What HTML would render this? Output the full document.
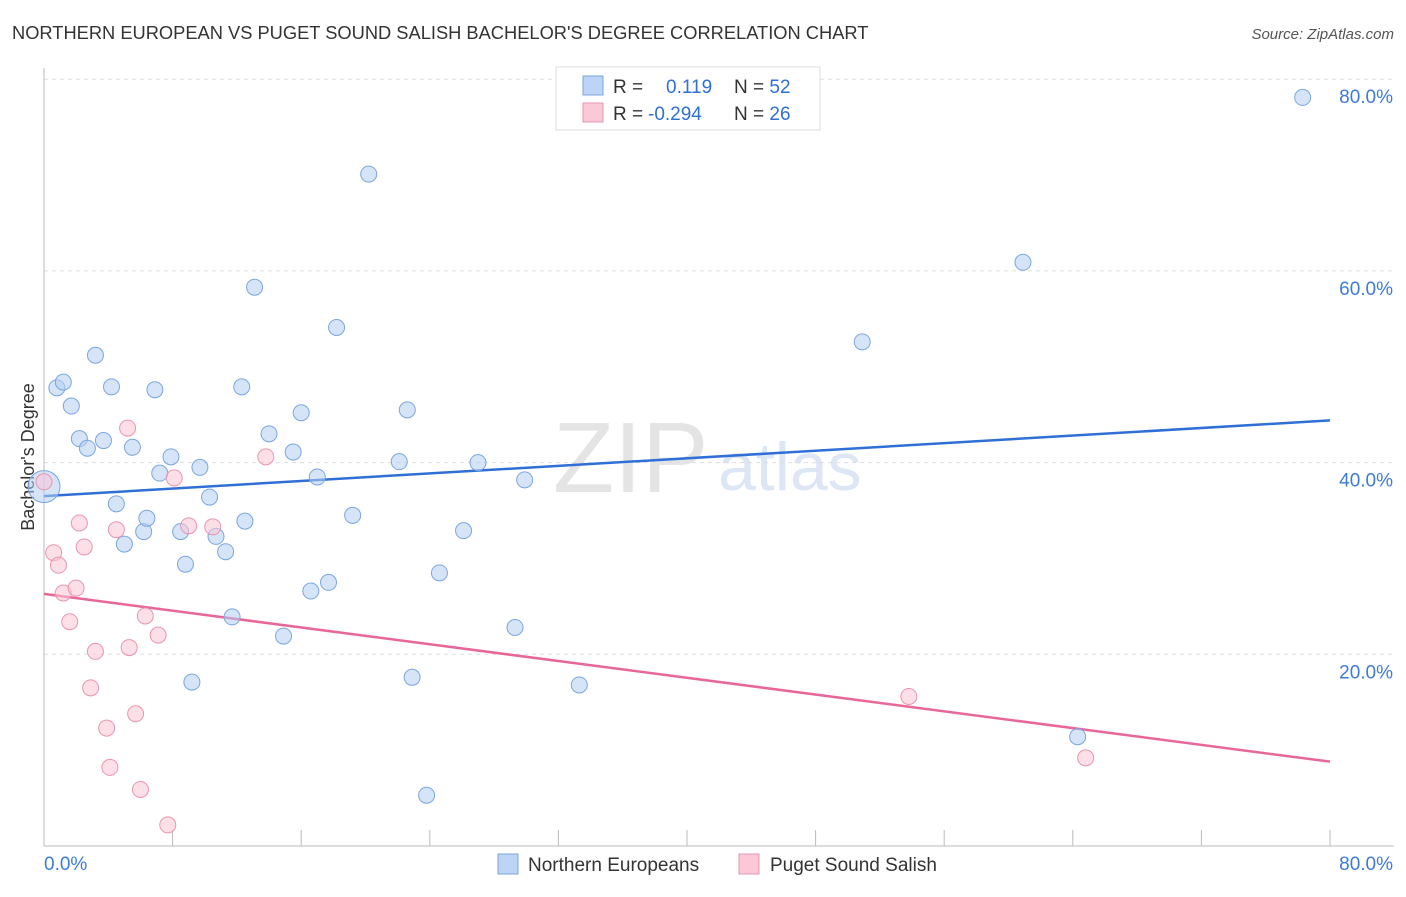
<!DOCTYPE html>
<html><head><meta charset="utf-8"><style>
body{margin:0;background:#fff;font-family:"Liberation Sans",sans-serif}
svg text{font-family:"Liberation Sans",sans-serif}
</style></head><body>
<svg id="c" width="1406" height="892">
<text x="12" y="39" font-size="18.3" fill="#333">NORTHERN EUROPEAN VS PUGET SOUND SALISH BACHELOR'S DEGREE CORRELATION CHART</text>
<text x="1394" y="39" font-size="15" fill="#555" font-style="italic" text-anchor="end">Source: ZipAtlas.com</text>
<text x="553" y="492" font-size="100" fill="#e4e4e4" font-family="Liberation Serif">ZIP</text>
<text x="718" y="490" font-size="68" fill="#dce6f4">atlas</text>
<text transform="translate(34,457) rotate(-90)" font-size="18" fill="#333" text-anchor="middle">Bachelor's Degree</text>
<g id="grid"></g><g id="axes"></g><g id="lines"></g><g id="pts"></g>
<g>
<rect x="556" y="67" width="264" height="63" fill="#fff" stroke="#ddd"/>
<rect x="583" y="76" width="20" height="19" fill="#bcd4f5" stroke="#7aa6e0"/>
<rect x="583" y="103" width="20" height="19" fill="#fac8d6" stroke="#eb94b0"/>
<text x="613" y="93" font-size="19" fill="#333">R = <tspan x="666" fill="#2f6fd6">0.119</tspan><tspan x="734" fill="#333">N = </tspan><tspan fill="#2f6fd6">52</tspan></text>
<text x="613" y="120" font-size="19" fill="#333">R = <tspan x="648" fill="#2f6fd6">-0.294</tspan><tspan x="734" fill="#333">N = </tspan><tspan fill="#2f6fd6">26</tspan></text>
</g>
<g>
<rect x="498" y="854" width="20" height="20" fill="#bcd4f5" stroke="#7aa6e0"/>
<text x="528" y="871" font-size="19" fill="#333">Northern Europeans</text>
<rect x="739" y="854" width="20" height="20" fill="#fac8d6" stroke="#eb94b0"/>
<text x="770" y="871" font-size="19" fill="#333">Puget Sound Salish</text>
</g>
</svg>
<script>
const yTicks=[20,40,60,80];
const yTickLabels=["20.0%","40.0%","60.0%","80.0%"];
const xTicks=[0,8,16,24,32,40,48,56,64,72,80];
const blueX=[0,0.8,1.2,1.7,2.2,2.7,3.2,3.7,4.2,4.5,5.0,5.5,6.2,6.4,6.9,7.2,7.9,8.5,8.8,9.2,9.7,10.3,10.7,11.3,11.7,12.3,12.5,13.1,14.0,14.9,15.5,16.0,16.6,17.0,17.7,18.2,19.2,20.2,22.1,22.6,22.9,23.8,24.6,26.1,27.0,29.3,29.9,33.3,50.9,60.9,64.3,78.3];
const blueY=[37.5,47.8,48.4,45.9,42.5,41.5,51.2,42.3,47.9,35.7,31.5,41.6,32.8,34.2,47.6,38.9,40.6,32.8,29.4,17.1,39.5,36.4,32.3,30.7,23.9,47.9,33.9,58.3,43.0,21.9,41.1,45.2,26.6,38.5,27.5,54.1,34.5,70.1,40.1,45.5,17.6,5.3,28.5,32.9,40.0,22.8,38.2,16.8,52.6,60.9,11.4,78.1];
const pinkX=[0,0.6,0.9,1.2,1.6,2.0,2.2,2.5,2.9,3.2,3.9,4.1,4.5,5.2,5.3,5.7,6.0,6.3,7.1,7.7,8.1,9.0,10.5,13.8,53.8,64.8];
const pinkY=[38.0,30.6,29.3,26.4,23.4,26.9,33.7,31.2,16.5,20.3,12.3,8.2,33.0,43.6,20.7,13.8,5.9,24.0,22.0,2.2,38.4,33.4,33.3,40.6,15.6,9.2];
const blueTrend=[36.5,44.4];
const pinkTrend=[26.3,8.8];
const X=v=>44+v*16.075, Y=v=>846-v*9.585;
const NS="http://www.w3.org/2000/svg";
function mk(p,t,a){const e=document.createElementNS(NS,t);for(const k in a)e.setAttribute(k,a[k]);document.getElementById(p).appendChild(e);return e;}
yTicks.forEach((t,i)=>{
 const l=mk('grid','line',{x1:44,x2:1394,y1:Y(t),y2:Y(t),stroke:'#ddd','stroke-dasharray':'4,4'});
 
 
 const tx=mk('axes','text',{x:1393,y:Y(t)+24,'font-size':19,fill:'#3d7bd9','text-anchor':'end'});
 tx.textContent=yTickLabels[i];
 
 
});
mk('axes','line',{x1:44,x2:44,y1:68,y2:846,stroke:'#bbb'});
mk('axes','line',{x1:44,x2:1394,y1:846,y2:846,stroke:'#bbb'});
xTicks.forEach(t=>{const l=mk('axes','line',{x1:X(t),x2:X(t),y1:830,y2:846,stroke:'#bbb'});
 
 });
let a=mk('axes','text',{x:44,y:870,'font-size':19,fill:'#3d7bd9'});a.textContent='0.0%';


a=mk('axes','text',{x:1393,y:870,'font-size':19,fill:'#3d7bd9','text-anchor':'end'});a.textContent='80.0%';


blueX.forEach((x,i)=>{const c=mk('pts','circle',{cx:X(x),cy:Y(blueY[i]),r:i===0?16:8,fill:'rgba(180,206,242,0.55)',stroke:'#7aa6e0','stroke-width':1});
 
 });
pinkX.forEach((x,i)=>{const c=mk('pts','circle',{cx:X(x),cy:Y(pinkY[i]),r:8,fill:'rgba(250,196,212,0.55)',stroke:'#eb94b0','stroke-width':1});
 
 });
let t1=mk('lines','line',{x1:X(0),x2:X(80),y1:Y(blueTrend[0]),y2:Y(blueTrend[1]),stroke:'#2f6fd6','stroke-width':2.5});


let t2=mk('lines','line',{x1:X(0),x2:X(80),y1:Y(pinkTrend[0]),y2:Y(pinkTrend[1]),stroke:'#e8679a','stroke-width':2.5});


</script>
</body></html>
